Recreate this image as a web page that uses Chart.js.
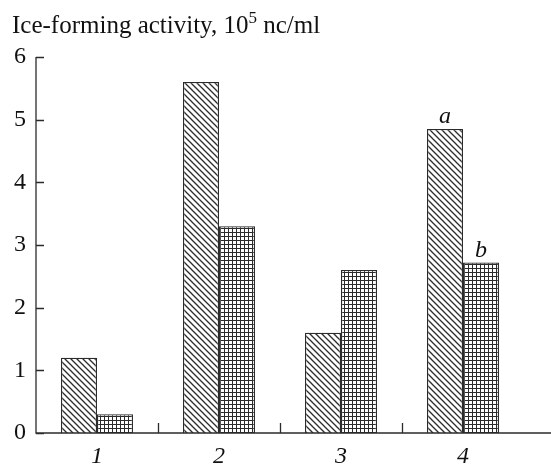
<!DOCTYPE html>
<html>
<head>
<meta charset="utf-8">
<script src="https://cdn.jsdelivr.net/npm/chart.js@4.4.1/dist/chart.umd.min.js"></script>
<style>
  html, body { margin: 0; padding: 0; background: #fff; }
  #wrap { width: 551px; height: 465px; position: relative; }
</style>
</head>
<body>
<div id="wrap"><canvas id="chart"></canvas></div>
<script>
// data
const categories = ['1', '2', '3', '4'];
const seriesA = [1.2, 5.6, 1.6, 4.85];
const seriesB = [0.3, 3.3, 2.6, 2.72];
const yTicks = [0, 1, 2, 3, 4, 5, 6];

const INK = '#2b2b2b';
const SERIF = '"Liberation Serif", "DejaVu Serif", serif';

// diagonal hatch, lines running top-left to bottom-right
function hatchPattern() {
    const c = document.createElement('canvas');
    c.width = 6; c.height = 6;
    const g = c.getContext('2d');
    g.fillStyle = '#fff';
    g.fillRect(0, 0, 6, 6);
    g.strokeStyle = INK;
    g.lineWidth = 1.3;
    g.beginPath();
    g.moveTo(-1, -1); g.lineTo(7, 7);
    g.moveTo(-4, 2); g.lineTo(4, 10);
    g.moveTo(2, -4); g.lineTo(10, 4);
    g.stroke();
    return g.createPattern(c, 'repeat');
}

// square grid
function gridPattern() {
    const c = document.createElement('canvas');
    c.width = 4; c.height = 4;
    const g = c.getContext('2d');
    g.fillStyle = '#fff';
    g.fillRect(0, 0, 4, 4);
    g.fillStyle = INK;
    g.fillRect(0, 0, 4, 1);
    g.fillRect(0, 0, 1, 4);
    return g.createPattern(c, 'repeat');
}

// axes, inward ticks, title and the a/b labels
const decor = {
    id: 'decor',
    afterDraw(chart) {
        const ctx = chart.ctx;
        const area = chart.chartArea;
        const x = chart.scales.x, y = chart.scales.y;
        ctx.save();
        ctx.strokeStyle = INK;
        ctx.lineWidth = 1.3;
        ctx.beginPath();
        ctx.moveTo(area.left, y.getPixelForValue(6));
        ctx.lineTo(area.left, area.bottom);
        ctx.lineTo(chart.width, area.bottom);
        yTicks.forEach(v => {
            const py = Math.round(y.getPixelForValue(v)) + 0.5;
            ctx.moveTo(area.left, py);
            ctx.lineTo(area.left + 8, py);
        });
        for (let i = 1; i < categories.length; i++) {
            const px = Math.round((x.getPixelForValue(i - 1) + x.getPixelForValue(i)) / 2) + 0.5;
            ctx.moveTo(px, area.bottom);
            ctx.lineTo(px, area.bottom - 10);
        }
        ctx.stroke();

        // title with superscript
        ctx.fillStyle = '#111';
        ctx.textBaseline = 'alphabetic';
        ctx.textAlign = 'left';
        ctx.font = '25px ' + SERIF;
        let tx = 12, ty = 33;
        const p1 = 'Ice-forming activity, 10';
        ctx.fillText(p1, tx, ty);
        tx += ctx.measureText(p1).width;
        ctx.font = '17px ' + SERIF;
        ctx.fillText('5', tx, ty - 10);
        tx += ctx.measureText('5').width;
        ctx.font = '25px ' + SERIF;
        ctx.fillText(' nc/ml', tx, ty);

        // bar annotations
        ctx.font = 'italic 24px ' + SERIF;
        ctx.textAlign = 'center';
        const a = chart.getDatasetMeta(0).data[3];
        const b = chart.getDatasetMeta(1).data[3];
        ctx.fillText('a', a.x, a.y - 6);
        ctx.fillText('b', b.x, b.y - 6);
        ctx.restore();
    }
};

new Chart(document.getElementById('chart'), {
    type: 'bar',
    data: {
        labels: categories,
        datasets: [{
            label: 'a',
            data: seriesA,
            backgroundColor: hatchPattern(),
            borderColor: INK,
            borderWidth: 1.3
        }, {
            label: 'b',
            data: seriesB,
            backgroundColor: gridPattern(),
            borderColor: INK,
            borderWidth: 1.3
        }]
    },
    options: {
        responsive: true,
        maintainAspectRatio: false,
        animation: false,
        layout: { padding: { top: 57, right: 27, left: 0, bottom: 0 } },
        datasets: { bar: { categoryPercentage: 0.59, barPercentage: 1 } },
        plugins: { legend: { display: false }, tooltip: { enabled: false } },
        scales: {
            x: {
                grid: { display: false, drawTicks: false },
                border: { display: false },
                ticks: {
                    color: '#111',
                    padding: 9,
                    font: { family: SERIF, size: 24, style: 'italic' }
                },
                afterFit(s) { s.height = 32; }
            },
            y: {
                min: 0, max: 6,
                grid: { display: false, drawTicks: false },
                border: { display: false },
                ticks: {
                    stepSize: 1,
                    color: '#111',
                    padding: 10,
                    font: { family: SERIF, size: 24 }
                },
                afterFit(s) { s.width = 36; }
            }
        }
    },
    plugins: [decor]
});
</script>
</body>
</html>
